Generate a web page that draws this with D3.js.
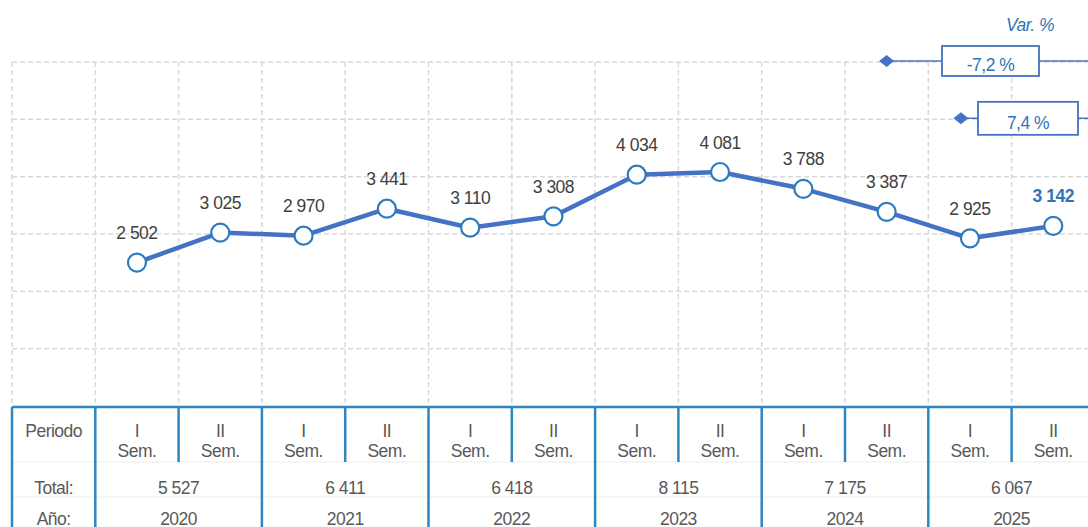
<!DOCTYPE html>
<html>
<head>
<meta charset="utf-8">
<script src="https://cdn.jsdelivr.net/npm/d3@7"></script>
<style>
  body { margin: 0; background: #fff; }
  svg { display: block; font-family: "Liberation Sans", Arial, sans-serif; }
  text { letter-spacing: -0.5px; }
</style>
</head>
<body>
<svg id="chart" width="1088" height="527"></svg>
<script>
var years = ["2020", "2021", "2022", "2023", "2024", "2025"];
var semesters = ["I", "II"];
var values = [2502, 3025, 2970, 3441, 3110, 3308, 4034, 4081, 3788, 3387, 2925, 3142];
var totals = [5527, 6411, 6418, 8115, 7175, 6067];
var yTicks = [0, 1000, 2000, 3000, 4000, 5000, 6000];
var varLabels = ["-7,2 %", "7,4 %"];
var varFrom = [9, 10]; // period compared against the last one
var varLevel = [6000, 5000];

var svg = d3.select("#chart");
var W = 1088, H = 527;
var colW = 83.3;
var left = 12;
var fs = 17.5;

var gridColor = "#d9d9d9";
var lineColor = "#4472c4";
var tableColor = "#2e86c1";
var textColor = "#404040";
var blue = "#2e75b6";

var fmt = d3.formatLocale({ decimal: ",", thousands: " ", grouping: [3], currency: ["", ""] }).format(",d");

// column 0 is "Periodo", columns 1..12 the semesters
var x = d3.scaleLinear().domain([0, 13]).range([left, left + 13 * colW]);
var y = d3.scaleLinear().domain([0, 6000]).range([406, 62]);

var px = function (i) { return x(i + 1.5); };

// grid
var grid = svg.append("g").attr("class", "grid");
grid.selectAll("line.h")
  .data(yTicks.filter(function (d) { return d > 0; }))
  .enter().append("line")
  .attr("x1", left).attr("x2", W)
  .attr("y1", function (d) { return y(d); })
  .attr("y2", function (d) { return y(d); })
  .attr("stroke", gridColor).attr("stroke-width", 1.5).attr("stroke-dasharray", "5,3");

grid.selectAll("line.v")
  .data(d3.range(0, 14))
  .enter().append("line")
  .attr("x1", function (d) { return x(d); })
  .attr("x2", function (d) { return x(d); })
  .attr("y1", y(6000)).attr("y2", y(0))
  .attr("stroke", gridColor).attr("stroke-width", 1.5).attr("stroke-dasharray", "5,3");

// variation markers
var vg = svg.append("g").attr("class", "var");
varLabels.forEach(function (lab, k) {
  var yy = y(varLevel[k]) - 1;
  var x0 = px(varFrom[k]) - (k === 1 ? 9 : 0);
  vg.append("line")
    .attr("x1", x0).attr("x2", W + 5)
    .attr("y1", yy).attr("y2", yy)
    .attr("stroke", lineColor).attr("stroke-width", 1.5);
  vg.append("path")
    .attr("d", "M-7.5,0L0,-6L7.5,0L0,6Z")
    .attr("transform", "translate(" + x0 + "," + yy + ")")
    .attr("fill", lineColor);
  var bx = k === 0 ? 942 : 978;
  var bw = k === 0 ? 97 : 100;
  var bh = k === 0 ? 30 : 33;
  vg.append("rect")
    .attr("x", bx).attr("y", yy - bh / 2)
    .attr("width", bw).attr("height", bh)
    .attr("fill", "#fff").attr("stroke", lineColor).attr("stroke-width", 1.8);
  vg.append("text")
    .attr("x", bx + bw / 2).attr("y", yy + (k === 0 ? 10 : 11))
    .attr("text-anchor", "middle")
    .attr("font-size", fs).attr("fill", blue)
    .text(lab);
});
vg.append("text")
  .attr("x", 1030).attr("y", 31)
  .attr("text-anchor", "middle")
  .attr("font-size", fs).attr("font-style", "italic").attr("fill", blue)
  .text("Var. %");

// line
var line = d3.line()
  .x(function (d, i) { return px(i); })
  .y(function (d) { return y(d); });

svg.append("path")
  .datum(values)
  .attr("d", line)
  .attr("fill", "none")
  .attr("stroke", lineColor)
  .attr("stroke-width", 4.5)
  .attr("stroke-linejoin", "round");

svg.selectAll("circle.pt")
  .data(values)
  .enter().append("circle")
  .attr("class", "pt")
  .attr("cx", function (d, i) { return px(i); })
  .attr("cy", function (d) { return y(d); })
  .attr("r", 9)
  .attr("fill", "#fff")
  .attr("stroke", "#2b7bbf")
  .attr("stroke-width", 2.2);

svg.selectAll("text.val")
  .data(values)
  .enter().append("text")
  .attr("class", "val")
  .attr("x", function (d, i) { return px(i); })
  .attr("y", function (d) { return y(d) - 23.5; })
  .attr("text-anchor", "middle")
  .attr("font-size", fs)
  .attr("font-weight", function (d, i) { return i === values.length - 1 ? "bold" : "normal"; })
  .attr("fill", function (d, i) { return i === values.length - 1 ? blue : textColor; })
  .text(function (d) { return fmt(d); });

// table
var tb = svg.append("g").attr("class", "table");
var tTop = 407, tRow1 = 462, tRow2 = 497;

tb.selectAll("line.row")
  .data([tRow1, tRow2])
  .enter().append("line")
  .attr("x1", left).attr("x2", W)
  .attr("y1", function (d) { return d; }).attr("y2", function (d) { return d; })
  .attr("stroke", "#ececec").attr("stroke-width", 1);

tb.append("line")
  .attr("x1", left).attr("x2", W)
  .attr("y1", tTop).attr("y2", tTop)
  .attr("stroke", tableColor).attr("stroke-width", 2.5);

// year separators, full height
tb.selectAll("line.yr")
  .data(d3.range(0, 7))
  .enter().append("line")
  .attr("x1", function (d) { return x(d === 0 ? 0 : 2 * d - 1); })
  .attr("x2", function (d) { return x(d === 0 ? 0 : 2 * d - 1); })
  .attr("y1", tTop).attr("y2", H)
  .attr("stroke", tableColor).attr("stroke-width", 2.5);

// semester separators, header row only
tb.selectAll("line.sem")
  .data(years)
  .enter().append("line")
  .attr("x1", function (d, i) { return x(2 * i + 2); })
  .attr("x2", function (d, i) { return x(2 * i + 2); })
  .attr("y1", tTop).attr("y2", tRow1)
  .attr("stroke", tableColor).attr("stroke-width", 2.5);

var tText = function (xx, yy, s) {
  tb.append("text")
    .attr("x", xx).attr("y", yy)
    .attr("text-anchor", "middle")
    .attr("font-size", fs)
    .attr("fill", "#595959")
    .text(s);
};

tText(x(0.5), 437, "Periodo");
tText(x(0.5), 494, "Total:");
tText(x(0.5), 525, "Año:");

values.forEach(function (d, i) {
  tText(px(i), 437, semesters[i % 2]);
  tText(px(i), 457, "Sem.");
});

years.forEach(function (yr, i) {
  tText(x(2 * i + 2), 494, fmt(totals[i]));
  tText(x(2 * i + 2), 525, yr);
});
</script>
</body>
</html>
